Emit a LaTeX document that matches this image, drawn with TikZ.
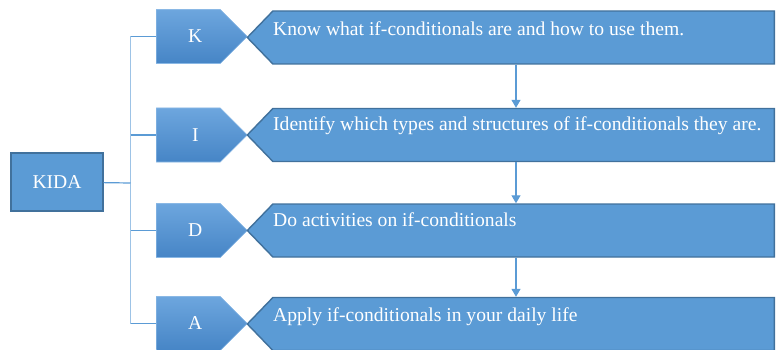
\documentclass[tikz,border=0pt]{standalone}
\usepackage{fontspec}
\setmainfont{Liberation Serif}
\usetikzlibrary{shapes.symbols,arrows.meta}

\definecolor{kidablue}{HTML}{5B9BD5}
\definecolor{kidaedge}{HTML}{41719C}
\definecolor{kidatop}{HTML}{6DA6DE}
\definecolor{kidabot}{HTML}{4685C6}
\definecolor{trunkblue}{HTML}{9DC3E6}

\tikzset{
  rootbox/.style={draw=kidaedge, line width=1.4pt, fill=kidablue, text=white,
    minimum width=92pt, minimum height=58pt, inner sep=0pt},
  letterbox/.style={signal, signal to=east, signal pointer angle=90, anchor=west,
    top color=kidatop, bottom color=kidabot, draw=kidatop!80!white, line width=0.6pt,
    text=white, minimum width=91pt, minimum height=54pt, inner sep=0pt},
  stepbox/.style={signal, signal to=west, signal pointer angle=92, anchor=east,
    draw=kidaedge, line width=1.4pt, fill=kidablue,
    minimum width=527pt, minimum height=53pt, inner sep=0pt},
  steptext/.style={anchor=base west, text=white, inner sep=0pt},
  branch/.style={draw=kidablue, line width=1.2pt},
  flow/.style={draw=kidablue, line width=1.2pt, -{Triangle[width=9pt,length=8pt]}}
}

\begin{document}
\begin{tikzpicture}[x=1pt, y=-1pt, font=\fontsize{19.6}{22}\selectfont]
      \useasboundingbox (0,0) rectangle (776,350);

      \node[rootbox] (kida) at (57,182) {KIDA};

      \node[letterbox] (k) at (156,36.5) {\hspace*{14pt}K};
      \node[letterbox] (i) at (156,135) {\hspace*{14pt}I};
      \node[letterbox] (d) at (156,230.5) {\hspace*{14pt}D};
      \node[letterbox] (a) at (156,323.5) {\hspace*{14pt}A};

      \node[stepbox] (kstep) at (775,37.5) {};
      \node[stepbox] (istep) at (775,135) {};
      \node[stepbox] (dstep) at (775,230.5) {};
      \node[stepbox] (astep) at (775,324) {};

      \node[steptext] (ktext) at (273,36) {Know what if-conditionals are and how to use them.};
      \node[steptext] (itext) at (273,131) {Identify which types and structures of if-conditionals they are.};
      \node[steptext] (dtext) at (273,226) {Do activities on if-conditionals};
      \node[steptext] (atext) at (273,321) {Apply if-conditionals in your daily life};

      % tree lines
      \coordinate (hub) at (130.5,183);
      \coordinate (jk) at (130.5,36.5);
      \coordinate (ji) at (130.5,135);
      \coordinate (jd) at (130.5,230.5);
      \coordinate (ja) at (130.5,323.5);

      \draw[draw=trunkblue, line width=1.4pt] (jk) -- (ja);
      \draw[branch] (kida) -- (hub);
      \draw[branch] (jk) -- (k.west);
      \draw[branch] (ji) -- (i.west);
      \draw[branch] (jd) -- (d.west);
      \draw[branch] (ja) -- (a.west);

      % steps
      \draw[flow] (kstep.south -| 516,0) -- (istep.north -| 516,0);
      \draw[flow] (istep.south -| 516,0) -- (dstep.north -| 516,0);
      \draw[flow] (dstep.south -| 516,0) -- (astep.north -| 516,0);

    \end{tikzpicture}
\end{document}
